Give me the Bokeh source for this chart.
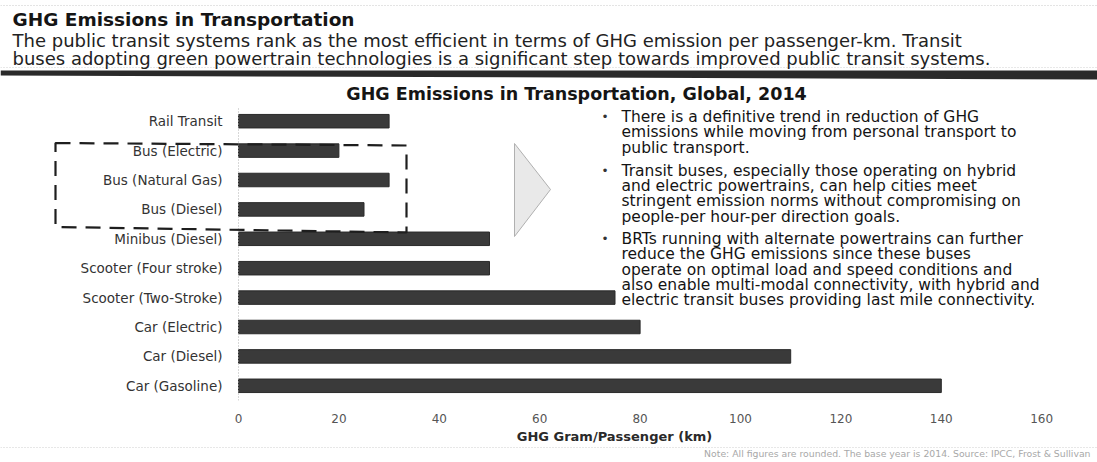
from bokeh.plotting import figure
from bokeh.layouts import column
from bokeh.models import FactorRange, Range1d, Label, PolyAnnotation, FixedTicker
from bokeh.embed import file_html
from bokeh.resources import INLINE

# ---------------- data ----------------
modes = ["Rail Transit", "Bus (Electric)", "Bus (Natural Gas)", "Bus (Diesel)",
         "Minibus (Diesel)", "Scooter (Four stroke)", "Scooter (Two-Stroke)",
         "Car (Electric)", "Car (Diesel)", "Car (Gasoline)"]
emissions = [30, 20, 30, 25, 50, 50, 75, 80, 110, 140]
x_ticks = [0, 20, 40, 60, 80, 100, 120, 140, 160]

title = "GHG Emissions in Transportation"
subtitle = ["The public transit systems rank as the most efficient in terms of GHG emission per passenger-km. Transit",
            "buses adopting green powertrain technologies is a significant step towards improved public transit systems."]
chart_title = "GHG Emissions in Transportation, Global, 2014"
x_label = "GHG Gram/Passenger (km)"
bullets = [
    ["There is a definitive trend in reduction of GHG",
     "emissions while moving from personal transport to",
     "public transport."],
    ["Transit buses, especially those operating on hybrid",
     "and electric powertrains, can help cities meet",
     "stringent emission norms without compromising on",
     "people-per hour-per direction goals."],
    ["BRTs running with alternate powertrains can further",
     "reduce the GHG emissions since these buses",
     "operate on optimal load and speed conditions and",
     "also enable multi-modal connectivity, with hybrid and",
     "electric transit buses providing last mile connectivity."],
]
note = "Note: All figures are rounded. The base year is 2014. Source: IPCC, Frost & Sullivan"

FONT = "DejaVu Sans"
W = 1097

# ---------------- header figure (page px coordinates) ----------------
HH = 106
hdr = figure(width=W, height=HH, output_backend="svg", toolbar_location=None,
             x_range=Range1d(0, W), y_range=Range1d(HH, 0),
             x_axis_location=None, y_axis_location=None,
             min_border_left=0, min_border_right=0, min_border_top=0, min_border_bottom=0)
hdr.outline_line_color = None
hdr.grid.visible = False

def hlab(fig, x, y, t, size, color="#1a1a1a", style="normal", align="left"):
    fig.add_layout(Label(x=x, y=y, text=t, text_font=FONT, text_font_size=size,
                         text_color=color, text_font_style=style, text_align=align,
                         text_baseline="middle"))

hdr.segment(x0=[0], y0=[5], x1=[W], y1=[5], line_color="#c8c8c8", line_width=1, line_dash="1 2")
hlab(hdr, 12, 19, title, "18.5px", color="#151515", style="bold")
hlab(hdr, 12, 39.5, subtitle[0], "18px", color="#222222")
hlab(hdr, 12, 58, subtitle[1], "18px", color="#222222")
hdr.segment(x0=[0], y0=[67], x1=[W], y1=[67], line_color="#d0d0d0", line_width=1, line_dash="1 2")
hdr.patch(x=[0, W, W, 0], y=[70, 70, 79, 75], fill_color="#2a2a2a", line_color=None)
hlab(hdr, 576, 93, chart_title, "17.5px", color="#151515", style="bold", align="center")

# ---------------- chart figure ----------------
FT, FB = 106, 400          # frame top / bottom (page px)
FL, PX = 238, 5.02         # x=0 position and px per unit
CH = 322
x0 = -FL / PX
x1 = (W - FL) / PX
p = figure(width=W, height=CH, output_backend="svg", toolbar_location=None,
           y_range=FactorRange(factors=list(reversed(modes))),
           x_range=Range1d(x0, x1),
           min_border_left=0, min_border_right=0, min_border_top=0,
           min_border_bottom=CH - (FB - FT))
p.outline_line_color = None
p.grid.visible = False

def dx(px):
    return (px - FL) / PX

def dy(py):
    return (FB - py) / (FB - FT) * len(modes)

p.hbar(y=modes, right=emissions, height=0.46, left=0,
       fill_color="#3a3a3a", line_color="#2a2a2a", line_width=1)

p.xaxis.ticker = FixedTicker(ticks=x_ticks)
p.xaxis.axis_line_color = None
p.xaxis.major_tick_line_color = None
p.xaxis.minor_tick_line_color = None
p.xaxis.major_label_text_font = FONT
p.xaxis.major_label_text_font_size = "12px"
p.xaxis.major_label_text_color = "#555555"
p.xaxis.major_label_standoff = 7

p.yaxis.fixed_location = 0
p.yaxis.axis_line_color = "#b0b0b0"
p.yaxis.axis_line_dash = "1 2"
p.yaxis.major_tick_line_color = None
p.yaxis.minor_tick_line_color = None
p.yaxis.major_label_text_font = FONT
p.yaxis.major_label_text_font_size = "13.5px"
p.yaxis.major_label_text_color = "#333333"
p.yaxis.major_label_standoff = 10

def clab(x, y, t, size, color="#1a1a1a"):
    p.add_layout(Label(x=dx(x), y=dy(y), text=t, text_font=FONT, text_font_size=size,
                       text_color=color, text_baseline="middle"))

# dashed highlight box around the bus rows
p.add_layout(PolyAnnotation(xs=[dx(v) for v in [55, 406, 406, 55]],
                            ys=[dy(v) for v in [142.5, 145, 232, 226.5]],
                            fill_alpha=0, line_color="#1e1e1e", line_alpha=1,
                            line_width=2.2, line_dash="15 9"))
# arrow triangle
p.add_layout(PolyAnnotation(xs=[dx(v) for v in [514, 550, 514]],
                            ys=[dy(v) for v in [143, 189, 236]],
                            fill_color="#e9e9e9", fill_alpha=1,
                            line_color="#b0b0b0", line_alpha=1, line_width=1))

# bullet text
ys = [[116, 131, 147], [170, 185, 200, 216], [238, 253, 269, 284, 299]]
for blk, yy in zip(bullets, ys):
    clab(601, yy[0], "\u2022", "12px", color="#333333")
    for t, y in zip(blk, yy):
        clab(621, y, t, "15.5px", color="#141414")

# ---------------- footer figure ----------------
FH = 32
ftr = figure(width=W, height=FH, output_backend="svg", toolbar_location=None,
             x_range=Range1d(0, W), y_range=Range1d(FT + CH + FH, FT + CH),
             x_axis_location=None, y_axis_location=None,
             min_border_left=0, min_border_right=0, min_border_top=0, min_border_bottom=0)
ftr.outline_line_color = None
ftr.grid.visible = False
hlab(ftr, 614, 436, x_label, "13px", color="#2a2a2a", style="bold", align="center")
ftr.segment(x0=[0], y0=[447], x1=[W], y1=[447], line_color="#cfcfcf", line_width=1, line_dash="1 2")
hlab(ftr, 1090, 453, note, "9.3px", color="#a8a8a8", align="right")

layout = column(hdr, p, ftr, spacing=0)
open("out.html", "w").write(file_html(layout, INLINE))
